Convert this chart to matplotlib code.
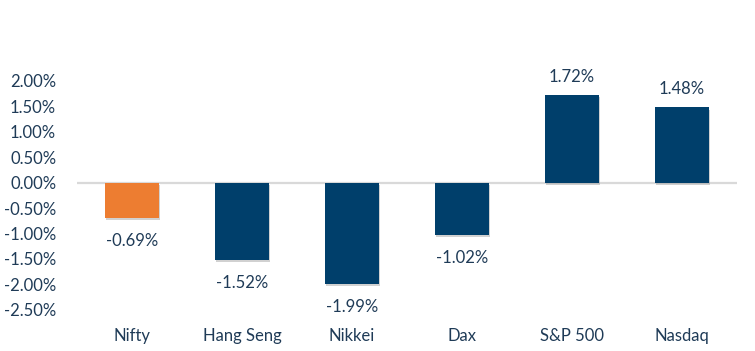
import matplotlib.pyplot as plt
import matplotlib.patheffects as pe

categories = ['Nifty', 'Hang Seng', 'Nikkei', 'Dax', 'S&P 500', 'Nasdaq']
returns = [-0.69, -1.52, -1.99, -1.02, 1.72, 1.48]
bar_colors = ['#ED7D31', '#003F6B', '#003F6B', '#003F6B', '#003F6B', '#003F6B']
yticks = [-2.5, -2.0, -1.5, -1.0, -0.5, 0.0, 0.5, 1.0, 1.5, 2.0]

text_color = '#1F3B57'
plt.rcParams['font.family'] = ['Lato', 'DejaVu Sans']

fig = plt.figure(figsize=(7.55, 3.51), dpi=100)
ax = fig.add_axes([0.102, 0.117, 0.874, 0.726])

x = range(len(categories))
bars = ax.bar(x, returns, width=0.49, color=bar_colors, zorder=3)
for b in bars:
    b.set_path_effects([pe.SimplePatchShadow(offset=(0.8, -1.8), shadow_rgbFace='#999999', alpha=0.45), pe.Normal()])

ax.axhline(0, color='#D9D9D9', lw=1.6, zorder=2)

for xi, v in zip(x, returns):
    if v >= 0:
        ax.annotate(f'{v:.2f}%', (xi, v), xytext=(0, 7), textcoords='offset points',
                    ha='center', va='bottom', fontsize=12, color=text_color)
    else:
        ax.annotate(f'{v:.2f}%', (xi, v), xytext=(0, -11), textcoords='offset points',
                    ha='center', va='top', fontsize=12, color=text_color)

ax.set_xlim(-0.5, 5.5)
ax.set_ylim(-2.5, 2.5)
ax.set_yticks(yticks)
ax.set_yticklabels([f'{t:.2f}%' for t in yticks], fontsize=12, color=text_color)
ax.set_xticks(list(x))
ax.set_xticklabels(categories, fontsize=12, color=text_color)
ax.tick_params(axis='both', length=0)
ax.tick_params(axis='x', pad=13)
ax.tick_params(axis='y', pad=15)
for s in ax.spines.values():
    s.set_visible(False)

fig.savefig('out.png', dpi=100)
